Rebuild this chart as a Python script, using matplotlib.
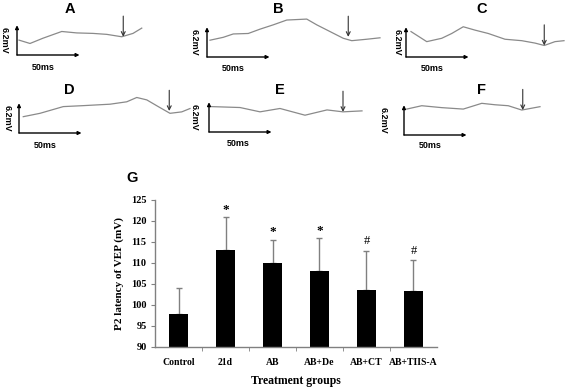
import numpy as np
import matplotlib
matplotlib.use("Agg")
import matplotlib.pyplot as plt

# ---------------------------------------------------------------------------
# VEP traces (panels A-F): time from scale-bar origin [ms], amplitude [mV]
# ---------------------------------------------------------------------------
panel_names = ["A", "B", "C", "D", "E", "F"]

trace_ms = [
    [1.6, 10.4, 20.8, 35.8, 47.8, 60.8, 71.8, 83.8, 92.8, 99.8],
    [2.4, 13, 21, 33, 42.4, 53, 63.8, 79.8, 87.8, 98.4, 109, 115.8, 127.8, 138.4],
    [4, 16.6, 28.6, 36.6, 45.8, 55.2, 65.8, 79.2, 92.6, 103.2, 110.6, 119.2, 126.4],
    [3.4, 16.8, 35.4, 51.4, 72.8, 86.2, 94.2, 102.2, 111.4, 120.8, 130.2, 136.8],
    [0.8, 24.8, 40.8, 56.8, 76.8, 94.4, 107.2, 122.4],
    [2.2, 14.2, 30.2, 47.4, 62.2, 72.8, 83.4, 94.2, 108.8],
]
trace_mv = [
    [3.1, 2.4, 3.5, 4.9, 4.6, 4.5, 4.3, 3.8, 4.5, 5.6],
    [3.5, 4.1, 4.8, 4.9, 5.8, 6.7, 7.7, 7.9, 6.7, 5.3, 3.9, 3.4, 3.7, 4.0],
    [5.3, 3.2, 3.9, 4.9, 6.3, 5.6, 4.9, 3.7, 3.4, 2.9, 2.4, 3.2, 3.4],
    [3.4, 4.1, 5.5, 5.7, 6.0, 6.5, 7.4, 6.9, 5.5, 4.1, 4.4, 5.1],
    [5.3, 5.1, 4.2, 4.9, 3.5, 4.6, 4.2, 4.4],
    [5.4, 6.1, 5.7, 5.4, 6.6, 6.3, 6.1, 5.2, 5.9],
]
# P2 marker (arrow) per panel: latency [ms], amplitude at tip [mV]
p2_ms = [85, 113, 110.6, 120.2, 107.2, 95]
p2_mv = [3.8, 4.2, 2.4, 4.6, 4.2, 5.2]

scale_ms = 50
scale_mv = 6.2

# ---------------------------------------------------------------------------
# Panel G: P2 latency bar chart
# ---------------------------------------------------------------------------
groups = ["Control", "21d", "AB", "AB+De", "AB+CT", "AB+TIIS-A"]
latency = [97.8, 113.2, 110.1, 108.1, 103.6, 103.3]
latency_sd = [6.3, 7.7, 5.4, 7.8, 9.3, 7.4]
signif = ["", "*", "*", "*", "#", "#"]

# ---------------------------------------------------------------------------
W, H = 567, 387
fig = plt.figure(figsize=(W / 100, H / 100), dpi=100)
fig.patch.set_facecolor("white")

px_per_ms = 1.25
px_per_mv = 4.8
x0, x1 = -20, 150
y0, y1 = -5, 12

# pixel origin of each panel's scale bar, and label placements
origins = [(17, 55), (207, 57), (406, 57), (19, 133), (209, 132), (404, 135)]
title_pos = [(42.4, 9.6), (57.2, 10.0), (60.8, 10.0), (40, 8.9), (56.8, 8.8), (61.6, 9.4)]
mv_label_x = [-10, -10, -7, -9.5, -12, -17]
ms_label_pos = [(21, -2.6), (21, -2.4), (21, -2.4), (21, -2.5), (23, -2.3), (21, -2.1)]

for i in range(6):
    ox, oy = origins[i]
    left = (ox + x0 * px_per_ms) / W
    bottom = (H - oy + y0 * px_per_mv) / H
    ax = fig.add_axes([left, bottom, (x1 - x0) * px_per_ms / W, (y1 - y0) * px_per_mv / H])
    ax.set_xlim(x0, x1)
    ax.set_ylim(y0, y1)
    ax.axis("off")

    ax.plot(trace_ms[i], trace_mv[i], color="#8a8a8a", lw=0.9, clip_on=False)

    # scale bar arrows
    ax.annotate("", xy=(0, scale_mv), xytext=(0, 0),
                arrowprops=dict(arrowstyle="-|>", color="black", lw=1.0,
                                mutation_scale=5, shrinkA=0, shrinkB=0))
    ax.annotate("", xy=(scale_ms, 0), xytext=(0, 0),
                arrowprops=dict(arrowstyle="-|>", color="black", lw=1.0,
                                mutation_scale=5, shrinkA=0, shrinkB=0))

    # P2 arrow
    ax.annotate("", xy=(p2_ms[i], p2_mv[i]), xytext=(p2_ms[i], p2_mv[i] + 4.3),
                arrowprops=dict(arrowstyle="->", color="#333333", lw=0.8,
                                mutation_scale=7, shrinkA=0, shrinkB=0),
                annotation_clip=False)

    ax.text(title_pos[i][0], title_pos[i][1], panel_names[i], ha="center", va="center",
            fontsize=10.5, fontweight="bold", family="Liberation Sans")
    ax.text(mv_label_x[i], scale_mv / 2, "6.2mV", rotation=-90, ha="center", va="center",
            fontsize=6.5, fontweight="bold", family="Liberation Sans")
    ax.text(ms_label_pos[i][0], ms_label_pos[i][1], "50ms", ha="center", va="center",
            fontsize=6.5, fontweight="bold", family="Liberation Sans")

# panel G label
fig.text(132 / W, 1 - 178 / H, "G", ha="center", va="center",
         fontsize=10.5, fontweight="bold", family="Liberation Sans")

axg = fig.add_axes([155 / W, (H - 347) / H, (437 - 155) / W, (347 - 200) / H])
x = np.arange(len(groups))
axg.bar(x, latency, width=0.42, color="black", zorder=2)
axg.errorbar(x, latency, yerr=[np.zeros(len(groups)), latency_sd], fmt="none",
             ecolor="#808080", elinewidth=1.0, capsize=2, capthick=1.0, zorder=1)
for xi, m, s, lab in zip(x, latency, latency_sd, signif):
    if lab == "*":
        axg.text(xi, m + s + 0.4, lab, ha="center", va="bottom",
                 fontsize=9.5, fontweight="bold", family="Liberation Serif")
    elif lab:
        axg.text(xi, m + s + 0.8, lab, ha="center", va="bottom",
                 fontsize=9, family="Liberation Serif")

axg.set_xlim(-0.5, len(groups) - 0.5)
axg.set_ylim(90, 125)
axg.set_yticks(np.arange(90, 126, 5))
axg.set_xticks(x)
axg.set_xticklabels(groups)
axg.set_xticks(np.arange(0.5, len(groups) - 0.5, 1), minor=True)
axg.tick_params(axis="x", which="major", length=0, pad=8)
axg.tick_params(axis="x", which="minor", length=3, direction="out", color="#808080")
axg.tick_params(axis="y", length=3, direction="out", color="#808080", pad=3)
for lbl in axg.get_yticklabels():
    lbl.set_fontfamily("Liberation Serif")
    lbl.set_fontweight("bold")
    lbl.set_fontsize(7.5)
for lbl in axg.get_xticklabels():
    lbl.set_fontfamily("Liberation Serif")
    lbl.set_fontweight("bold")
    lbl.set_fontsize(7)
for side in ["top", "right"]:
    axg.spines[side].set_visible(False)
for side in ["left", "bottom"]:
    axg.spines[side].set_color("#808080")
    axg.spines[side].set_linewidth(1.0)

axg.set_ylabel("P2 latency of VEP (mV)", fontsize=8, fontweight="bold",
               family="Liberation Serif", labelpad=5)
axg.set_xlabel("Treatment groups", fontsize=8.5, fontweight="bold",
               family="Liberation Serif", labelpad=6)

fig.savefig("out.png", dpi=100, facecolor="white")
